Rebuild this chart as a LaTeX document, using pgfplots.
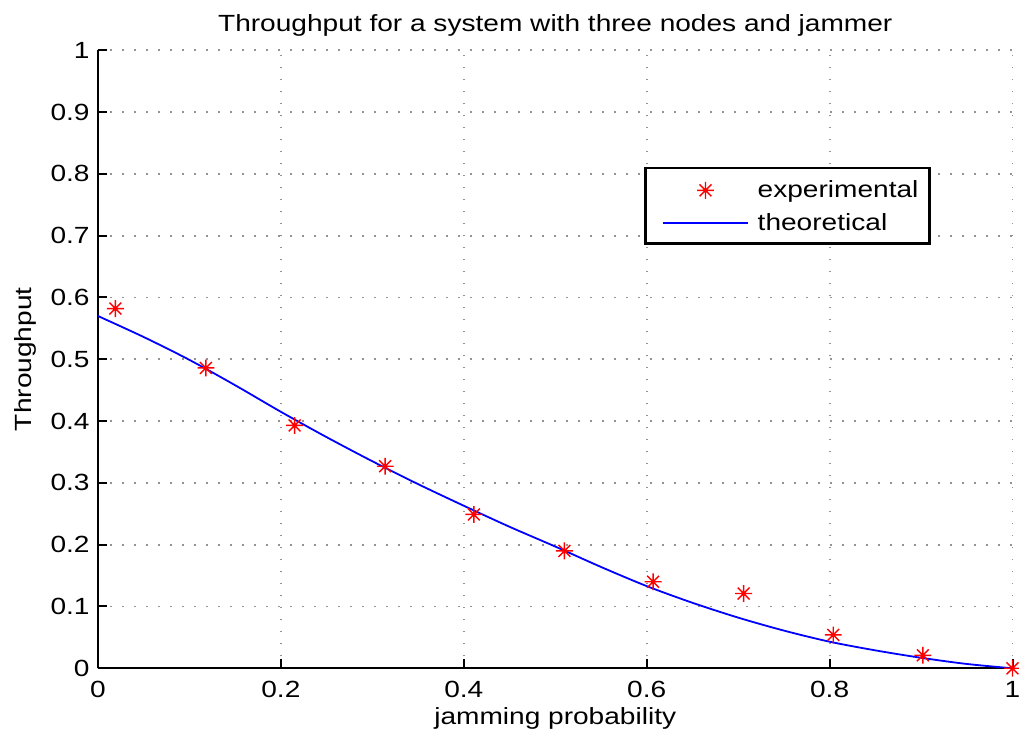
\documentclass[border=0pt]{standalone}
\usepackage{fontspec}
\setmainfont{Liberation Sans}[FakeStretch=1.2]
\usepackage{pgfplots}
\pgfplotsset{compat=1.18}
\pgfdeclareplotmark{mstar}{%
  \pgfpathmoveto{\pgfqpoint{-\pgfplotmarksize}{0pt}}\pgfpathlineto{\pgfqpoint{\pgfplotmarksize}{0pt}}%
  \pgfpathmoveto{\pgfqpoint{0pt}{-\pgfplotmarksize}}\pgfpathlineto{\pgfqpoint{0pt}{\pgfplotmarksize}}%
  \pgfpathmoveto{\pgfqpoint{-0.7071\pgfplotmarksize}{-0.7071\pgfplotmarksize}}\pgfpathlineto{\pgfqpoint{0.7071\pgfplotmarksize}{0.7071\pgfplotmarksize}}%
  \pgfpathmoveto{\pgfqpoint{-0.7071\pgfplotmarksize}{0.7071\pgfplotmarksize}}\pgfpathlineto{\pgfqpoint{0.7071\pgfplotmarksize}{-0.7071\pgfplotmarksize}}%
  \pgfusepathqstroke}
\begin{document}
\begin{tikzpicture}
\begin{axis}[
  scale only axis,
  width=457.25pt, height=309pt,
  xmin=0, xmax=1, ymin=0, ymax=1,
  xtick={0,0.2,0.4,0.6,0.8,1},
  ytick={0,0.1,0.2,0.3,0.4,0.5,0.6,0.7,0.8,0.9,1},
  axis x line=bottom, axis y line=left,
  axis line style={-, line width=1pt, black},
  tick align=inside,
  major tick length=4.5pt,
  tick style={line width=1pt, black},
  grid=major,
  major grid style={gray!85, line width=0.9pt, dash pattern=on 0.8pt off 5.2pt},
  font=\fontsize{11.7}{14}\selectfont,
  /pgf/number format/assume math mode=true,
  ticklabel style={font=\fontsize{11.7}{14}\selectfont},
  xticklabel style={anchor=base, inner sep=0pt, yshift=-14.75pt},
  yticklabel style={anchor=east, inner sep=0pt, xshift=-4pt},
  title={Throughput for a system with three nodes and jammer},
  title style={at={(axis description cs:0.5,1)}, anchor=base, yshift=3.5pt, inner sep=0pt},
  xlabel={jamming probability},
  xlabel style={at={(axis description cs:0.5,-0.0906)}, anchor=base, inner sep=0pt},
  ylabel={Throughput},
  ylabel style={at={(axis description cs:-0.0722,0.5)}, anchor=base, rotate=0, inner sep=0pt},
  clip=false,
  legend style={at={(axis description cs:0.5975,0.8117)}, anchor=north west,
    draw=black, line width=1.3pt, inner xsep=5.5pt, inner ysep=2.35pt,
    row sep=0pt, column sep=4.4pt,
    nodes={inner sep=0pt, text height=12.65pt, text depth=3.85pt, anchor=base west}},
  legend cell align=left,
  legend image code/.code={%
    \path (0pt,0pt);
    \draw[mark repeat=2, mark phase=2, #1] plot coordinates {(2.5pt,3.8pt) (23.75pt,3.8pt) (45pt,3.8pt)};
  },
]
\addplot[only marks, mark=mstar, mark size=4.2pt, color=red, mark options={line width=0.7pt}] coordinates {
(0.019,0.582) (0.118,0.486) (0.215,0.393) (0.314,0.327) (0.411,0.249) (0.510,0.190)
(0.607,0.140) (0.706,0.121) (0.804,0.054) (0.902,0.021) (1.0,0.0)
};
\addlegendentry{experimental}
\addplot[color=blue, draw=blue, line width=0.9pt, smooth, mark=none] coordinates {
(0,0.570) (0.05,0.536) (0.1,0.499) (0.15,0.458) (0.2,0.415) (0.25,0.374) (0.3,0.335)
(0.35,0.298) (0.4,0.263) (0.45,0.229) (0.5,0.197) (0.55,0.164) (0.6,0.133) (0.65,0.106)
(0.7,0.082) (0.75,0.061) (0.8,0.043) (0.85,0.029) (0.9,0.017) (0.95,0.007) (1.0,0.0)
};
\addlegendentry{theoretical}
\end{axis}
\pgfresetboundingbox
\path[use as bounding box] ([shift={(-49pt,-31.35pt)}]current axis.south west) rectangle ++(509.5pt,365.5pt);
\end{tikzpicture}
\end{document}
